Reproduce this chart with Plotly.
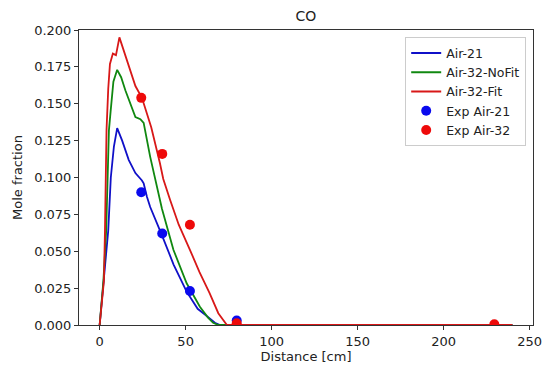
import plotly.graph_objects as go

# ---- data ----
air21_x = [0, 2.5, 5.0, 6.5, 8.3, 10.2, 13.1, 16.9, 20.8, 24.6, 25.6, 27.5, 29.4, 36.2, 43, 50.6, 53, 57, 64, 67, 70, 80, 240]
air21_y = [0, 0.03, 0.064, 0.100, 0.121, 0.1335, 0.125, 0.112, 0.103, 0.098, 0.096, 0.087, 0.080, 0.061, 0.041, 0.0226, 0.018, 0.011, 0.0045, 0.0015, 0, 0, 0]

air32nf_x = [0, 2.2, 3.8, 5.4, 6.4, 8.0, 10.2, 12.5, 15, 18.9, 20.8, 23.7, 25.6, 29.4, 36.2, 42.9, 50.6, 58.3, 63, 66, 69, 80, 240]
air32nf_y = [0, 0.03, 0.064, 0.132, 0.145, 0.165, 0.173, 0.168, 0.159, 0.146, 0.141, 0.1395, 0.137, 0.114, 0.079, 0.051, 0.0283, 0.0124, 0.005, 0.0015, 0, 0, 0]

air32f_x = [0, 2.5, 3.1, 4.0, 5.0, 6.0, 7.7, 9.5, 11.5, 13.5, 16.9, 20.8, 24.6, 30, 35, 37, 41, 46, 52.5, 58, 64, 69, 74, 80, 240]
air32f_y = [0, 0.03, 0.064, 0.132, 0.160, 0.177, 0.184, 0.183, 0.195, 0.188, 0.175, 0.162, 0.154, 0.134, 0.110, 0.099, 0.0847, 0.068, 0.051, 0.036, 0.0215, 0.008, 0, 0, 0]

exp21_x = [24.2, 36.4, 52.5, 79.7]
exp21_y = [0.090, 0.062, 0.023, 0.003]

exp32_x = [24.2, 36.4, 52.5, 79.7, 229.5]
exp32_y = [0.154, 0.116, 0.068, 0.0012, 0.0005]

x_ticks = [0, 50, 100, 150, 200, 250]
y_ticks = [0, 0.025, 0.05, 0.075, 0.1, 0.125, 0.15, 0.175, 0.2]

FONT = "DejaVu Sans"
TXT = "#222222"

fig = go.Figure()
fig.add_trace(go.Scatter(x=air21_x, y=air21_y, mode="lines", name="Air-21",
                         line=dict(color="#1010c8", width=1.8)))
fig.add_trace(go.Scatter(x=air32nf_x, y=air32nf_y, mode="lines", name="Air-32-NoFit",
                         line=dict(color="#108810", width=1.8)))
fig.add_trace(go.Scatter(x=air32f_x, y=air32f_y, mode="lines", name="Air-32-Fit",
                         line=dict(color="#d81818", width=1.8)))
fig.add_trace(go.Scatter(x=exp21_x, y=exp21_y, mode="markers", name="Exp Air-21",
                         marker=dict(color="#0a0aee", size=10, line=dict(width=0))))
fig.add_trace(go.Scatter(x=exp32_x, y=exp32_y, mode="markers", name="Exp Air-32",
                         marker=dict(color="#ee0a0a", size=10, line=dict(width=0))))

axis_common = dict(showline=True, mirror=True, linecolor="#333333", linewidth=1,
                   ticks="outside", ticklen=4, tickcolor="#333333", showgrid=False,
                   zeroline=False, automargin=False,
                   tickfont=dict(family=FONT, size=13, color=TXT))

# the page body has an 8px margin, so the figure is 8px smaller than the window
fig.update_layout(
    width=542, height=369,
    margin=dict(l=71, r=17, t=22, b=52),
    paper_bgcolor="white", plot_bgcolor="white",
    title=dict(text="CO", x=0.5, xref="paper", xanchor="center",
               y=1.0, yref="container", yanchor="top", pad=dict(t=3, b=0),
               font=dict(family=FONT, size=14, color=TXT)),
    xaxis=dict(range=[-12, 252], tickvals=x_ticks,
               title=dict(text="Distance [cm]", font=dict(family=FONT, size=13, color=TXT), standoff=2),
               **axis_common),
    yaxis=dict(range=[0, 0.2], tickvals=y_ticks, tickformat=".3f",
               title=dict(text="Mole fraction", font=dict(family=FONT, size=13, color=TXT), standoff=8),
               **axis_common),
    legend=dict(x=0.985, y=0.975, xanchor="right", yanchor="top",
                bgcolor="rgba(255,255,255,0.9)", bordercolor="#cccccc", borderwidth=1,
                font=dict(family=FONT, size=12.5, color=TXT),
                tracegroupgap=0, itemwidth=30),
    showlegend=True,
)

fig.write_html("out.html")
